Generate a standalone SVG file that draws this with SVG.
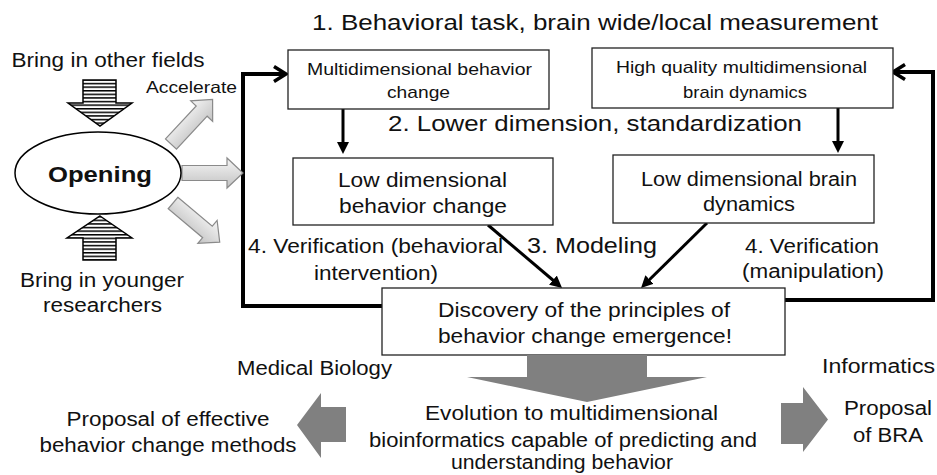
<svg xmlns="http://www.w3.org/2000/svg" width="937" height="475" viewBox="0 0 937 475">
<style>
text{font-family:"Liberation Sans",Arial,sans-serif;fill:#111;text-anchor:middle}
.f17{font-size:17px}
.f19{font-size:19.5px}
.f22{font-size:22.5px}
.box{fill:#fff;stroke:#222;stroke-width:1.3}
.conn{fill:none;stroke:#000;stroke-width:3}
.loop{fill:none;stroke:#000;stroke-width:4;stroke-linejoin:miter}
.bigarrow{fill:#808080}
.lightarrow{fill:url(#lg);stroke:#8a8a8a;stroke-width:1.2}
.striped{fill:url(#stripes);stroke:#000;stroke-width:1.5}
</style>
<defs>
<linearGradient id="lg" x1="0" y1="0" x2="0" y2="1">
<stop offset="0" stop-color="#f6f6f6"/>
<stop offset="1" stop-color="#c2c2c2"/>
</linearGradient>
<pattern id="stripes" patternUnits="userSpaceOnUse" width="8" height="3.6">
<rect width="8" height="3.6" fill="#fff"/>
<rect width="8" height="1.5" fill="#000"/>
</pattern>
<marker id="tri" viewBox="0 0 12 12" refX="6" refY="6" markerWidth="12" markerHeight="12" markerUnits="userSpaceOnUse" orient="auto">
<path d="M0,0 L12,6 L0,12 Z" fill="#000"/>
</marker>
<marker id="chev" viewBox="0 0 14 18" refX="13" refY="9" markerWidth="14" markerHeight="18" markerUnits="userSpaceOnUse" orient="auto" overflow="visible">
<path d="M1,1.5 L13,9 L1,16.5" fill="none" stroke="#000" stroke-width="3.5"/>
</marker>
<path id="lightArrowShape" d="M0,-7.5 L45,-7.5 L45,-15 L61,0 L45,15 L45,7.5 L0,7.5 Z"/>
</defs>

<g id="connectors">
<polyline class="loop" points="383,306 243,306 243,74 286,74" marker-end="url(#chev)"/>
<polyline class="loop" points="784,300 933,300 933,72 893,72" marker-end="url(#chev)"/>
<line class="conn" x1="343" y1="109" x2="343" y2="148" marker-end="url(#tri)"/>
<line class="conn" x1="838" y1="108" x2="838" y2="147" marker-end="url(#tri)"/>
<line class="conn" x1="488" y1="225" x2="557.5" y2="284" marker-end="url(#tri)"/>
<line class="conn" x1="707" y1="223" x2="645.3" y2="283.8" marker-end="url(#tri)"/>
</g>

<g id="opening-inputs">
<path class="striped" d="M83,80 H116 V103 H132 L100,126 L68,103 H83 Z"/>
<path class="striped" d="M100,216 L132,238 H116 V260 H83 V238 H67 Z"/>
</g>

<g id="accelerate-arrows">
<use href="#lightArrowShape" class="lightarrow" transform="translate(171,144) rotate(-47)"/>
<use href="#lightArrowShape" class="lightarrow" transform="translate(182,173)"/>
<use href="#lightArrowShape" class="lightarrow" transform="translate(173,203) rotate(40)"/>
</g>

<g id="opening">
<ellipse cx="98" cy="173" rx="83" ry="41" fill="#fff" stroke="#000" stroke-width="1.5"/>
<text x="100" y="182" style="font-size:22px;font-weight:bold" textLength="104" lengthAdjust="spacingAndGlyphs">Opening</text>
</g>

<g id="side-labels">
<text class="f19" x="108" y="67" textLength="193" lengthAdjust="spacingAndGlyphs">Bring in other fields</text>
<text x="191.5" y="93" style="font-size:16.5px" textLength="91" lengthAdjust="spacingAndGlyphs">Accelerate</text>
<text class="f19" x="102" y="287" textLength="164" lengthAdjust="spacingAndGlyphs">Bring in younger</text>
<text class="f19" x="102.5" y="312" textLength="119" lengthAdjust="spacingAndGlyphs">researchers</text>
</g>

<g id="step-labels">
<text class="f22" x="595" y="30" textLength="566" lengthAdjust="spacingAndGlyphs">1. Behavioral task, brain wide/local measurement</text>
<text class="f22" x="595" y="131" textLength="414" lengthAdjust="spacingAndGlyphs">2. Lower dimension, standardization</text>
<text x="592" y="253" style="font-size:21.5px" textLength="130" lengthAdjust="spacingAndGlyphs">3. Modeling</text>
<text class="f19" x="375.5" y="253" textLength="255" lengthAdjust="spacingAndGlyphs">4. Verification (behavioral</text>
<text class="f19" x="376" y="280" textLength="124" lengthAdjust="spacingAndGlyphs">intervention)</text>
<text class="f19" x="812" y="253" textLength="134" lengthAdjust="spacingAndGlyphs">4. Verification</text>
<text class="f19" x="813" y="278" textLength="142" lengthAdjust="spacingAndGlyphs">(manipulation)</text>
</g>

<g id="multi-behavior">
<rect class="box" x="288" y="50" width="261" height="59"/>
<text class="f17" x="419.5" y="75" textLength="225" lengthAdjust="spacingAndGlyphs">Multidimensional behavior</text>
<text class="f17" x="418.5" y="98" textLength="63" lengthAdjust="spacingAndGlyphs">change</text>
</g>

<g id="multi-brain">
<rect class="box" x="592" y="48" width="301" height="60"/>
<text class="f17" x="741.5" y="73" textLength="251" lengthAdjust="spacingAndGlyphs">High quality multidimensional</text>
<text class="f17" x="745" y="98" textLength="124" lengthAdjust="spacingAndGlyphs">brain dynamics</text>
</g>

<g id="low-behavior">
<rect class="box" x="293" y="158" width="260" height="67"/>
<text class="f19" x="422.5" y="187" textLength="169" lengthAdjust="spacingAndGlyphs">Low dimensional</text>
<text class="f19" x="423" y="213" textLength="168" lengthAdjust="spacingAndGlyphs">behavior change</text>
</g>

<g id="low-brain">
<rect class="box" x="613" y="155" width="261" height="68"/>
<text class="f19" x="749" y="186" textLength="216" lengthAdjust="spacingAndGlyphs">Low dimensional brain</text>
<text class="f19" x="749" y="211" textLength="92" lengthAdjust="spacingAndGlyphs">dynamics</text>
</g>

<g id="discovery">
<rect class="box" x="382" y="288" width="403" height="67"/>
<text class="f19" x="584" y="317" textLength="292" lengthAdjust="spacingAndGlyphs">Discovery of the principles of</text>
<text class="f19" x="585" y="343" textLength="294" lengthAdjust="spacingAndGlyphs">behavior change emergence!</text>
</g>

<g id="outcome-arrows">
<path class="bigarrow" d="M527,355 H647 V377 H707 L587,402 L467,377 H527 Z"/>
<path class="bigarrow" d="M346,407 V442 H321 V458 L297,425 L321,393 V407 Z"/>
<path class="bigarrow" d="M781,403 H803 V387 L828,419.5 L803,452 V444 H781 Z"/>
</g>

<g id="evolution">
<text class="f19" x="571.5" y="420" textLength="293" lengthAdjust="spacingAndGlyphs">Evolution to multidimensional</text>
<text class="f19" x="563" y="447" textLength="388" lengthAdjust="spacingAndGlyphs">bioinformatics capable of predicting and</text>
<text class="f19" x="562" y="469" textLength="222" lengthAdjust="spacingAndGlyphs">understanding behavior</text>
</g>

<g id="medical-biology">
<text class="f19" x="314.5" y="375" textLength="155" lengthAdjust="spacingAndGlyphs">Medical Biology</text>
<text class="f19" x="168" y="426" textLength="203" lengthAdjust="spacingAndGlyphs">Proposal of effective</text>
<text class="f19" x="168" y="452" textLength="257" lengthAdjust="spacingAndGlyphs">behavior change methods</text>
</g>

<g id="informatics">
<text class="f19" x="878.5" y="373" textLength="113" lengthAdjust="spacingAndGlyphs">Informatics</text>
<text class="f19" x="888" y="415" textLength="88" lengthAdjust="spacingAndGlyphs">Proposal</text>
<text class="f19" x="888" y="442" textLength="70" lengthAdjust="spacingAndGlyphs">of BRA</text>
</g>
</svg>
